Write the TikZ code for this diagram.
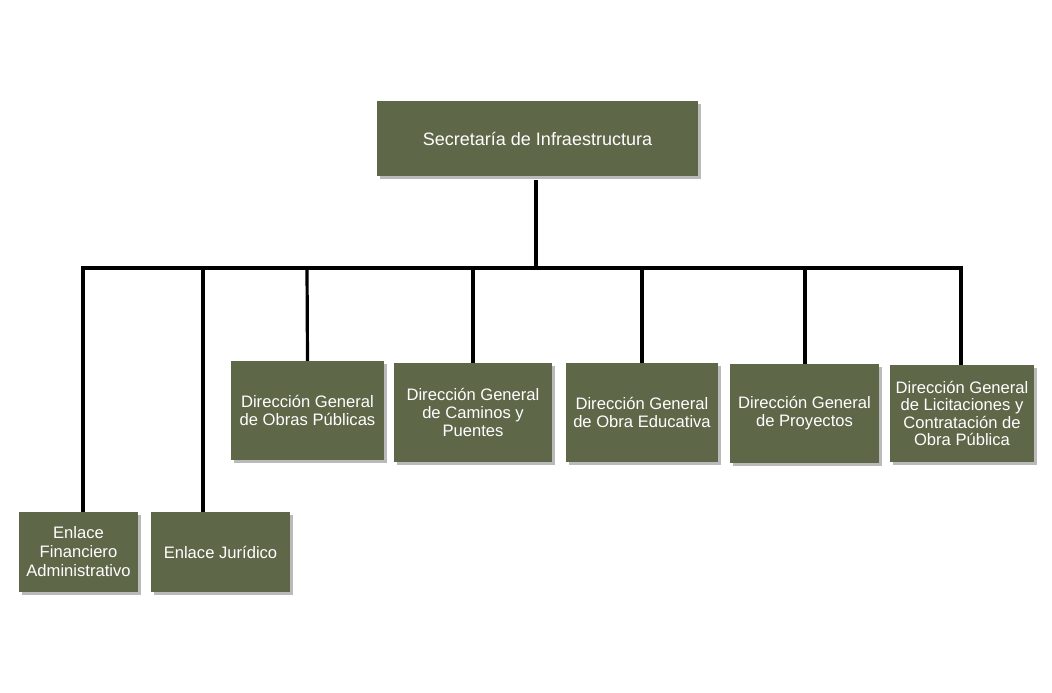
\documentclass[tikz,border=0pt]{standalone}
\usepackage{fontspec}
\setmainfont{Liberation Sans}
\usetikzlibrary{shadows}
\definecolor{boxgreen}{RGB}{94,103,72}
\begin{document}
\begin{tikzpicture}[x=1pt,y=-1pt,
  orgbox/.style={draw=none, fill=boxgreen, text=white, align=center, inner sep=2pt,
    font=\fontsize{16.6}{18.2}\selectfont,
    drop shadow={shadow xshift=3pt, shadow yshift=-3pt, fill=black!45, opacity=0.6}},
  conn/.style={line width=3.2pt, black}]
\useasboundingbox (0,0) rectangle (1052,693);
\fill[white] (0,0) rectangle (1052,693);
\node[orgbox, minimum width=321pt, minimum height=75pt, font=\fontsize{18}{20}\selectfont] (top) at (537.5,138.5) {Secretaría de Infraestructura};
\node[orgbox, minimum width=119pt, minimum height=80pt, font=\fontsize{16.6}{19}\selectfont] (ef) at (78.5,552) {Enlace\\Financiero\\Administrativo};
\node[orgbox, minimum width=139pt, minimum height=80pt] (ej) at (220.5,552) {Enlace Jurídico};
\node[orgbox, minimum width=153pt, minimum height=99pt] (d1) at (307.5,410.5) {Dirección General\\de Obras Públicas};
\node[orgbox, minimum width=158pt, minimum height=99pt] (d2) at (473,412.5) {Dirección General\\de Caminos y\\Puentes};
\node[orgbox, minimum width=152pt, minimum height=99pt] (d3) at (642,412.5) {Dirección General\\de Obra Educativa};
\node[orgbox, minimum width=149pt, minimum height=99pt] (d4) at (804.5,413.5) {Dirección General\\de Proyectos};
\node[orgbox, minimum width=144pt, minimum height=97pt, font=\fontsize{16.6}{17.6}\selectfont] (d5) at (962,413.5) {Dirección General\\de Licitaciones y\\Contratación de\\Obra Pública};
\coordinate (bus) at (536,268);
\coordinate (busL) at (83,268);
\coordinate (busR) at (961,268);
\coordinate (topbot) at (536,180);
\coordinate (efTop) at (83,512);
\coordinate (ejTop) at (203,512);
\draw[conn] (topbot) -- (bus);
\draw[conn, line cap=rect] (busL) -- (busR);
\draw[conn] (busL) -- (efTop);
\draw[conn] (203,268) -- (ejTop);
\draw[conn] (307,268) -- (d1.north);
\draw[conn] (473,268) -- (d2.north);
\draw[conn] (642,268) -- (d3.north);
\draw[conn] (805,268) -- (805,364);
\draw[conn] (busR) -- (961,365);
\end{tikzpicture}
\end{document}
